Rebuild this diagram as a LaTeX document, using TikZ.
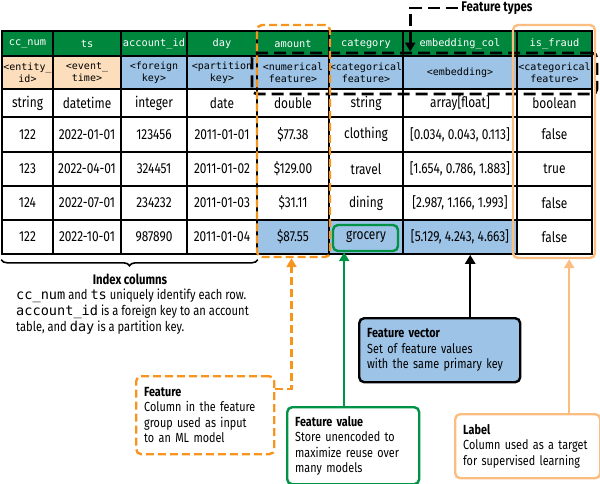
\documentclass[tikz,border=0pt]{standalone}
\usepackage{fontspec}
\setmainfont{Fira Sans}[FakeStretch=0.82]
\setmonofont{DejaVu Sans Mono}
\usetikzlibrary{positioning,arrows.meta,decorations.pathreplacing}
\hyphenpenalty=10000

\definecolor{hdrgreen}{RGB}{0,135,62}
\definecolor{keyorange}{RGB}{252,222,188}
\definecolor{typeblue}{RGB}{157,195,230}
\definecolor{featorange}{RGB}{247,148,29}
\definecolor{labelorange}{RGB}{251,190,128}
\definecolor{valgreen}{RGB}{0,146,69}

\def\colx{{2,53,121,187,257,329,403,517,592}}
\def\rowy{{31,56,89,117,152,186,220,254}}

\newcommand{\tablerow}[4]{%
  \foreach \cellt [count=\i from #3] in {#4} {%
    \pgfmathsetmacro{\xa}{\colx[\i-1]}\pgfmathsetmacro{\xb}{\colx[\i]}%
    \pgfmathsetmacro{\ya}{\rowy[#1-1]}\pgfmathsetmacro{\yb}{\rowy[#1]}%
    \node[cell,#2,minimum width=\xb-\xa,minimum height=\yb-\ya] (c#1-\i)
      at ({(\xa+\xb)/2},{(\ya+\yb)/2}) {\cellt};
  }}

\begin{document}
\begin{tikzpicture}[x=1pt, y=-1pt, >={Triangle[width=10pt,length=9pt]},
  cell/.style={draw=black, line width=1.6pt, inner sep=0pt, align=center,
    font=\fontsize{14.5}{16}\selectfont},
  hdrcell/.style={fill=hdrgreen, text=white, font=\ttfamily\fontsize{10.3}{12}\selectfont},
  keycell/.style={fill=keyorange, font=\ttfamily\fontsize{10}{12}\selectfont},
  typecell/.style={fill=typeblue, font=\ttfamily\fontsize{10}{12}\selectfont},
  pickcell/.style={fill=typeblue},
  callout/.style={rounded corners=5pt, line width=2.4pt, align=left, anchor=north west,
    inner xsep=8pt, inner ysep=0pt, font=\fontsize{13.2}{15.5}\selectfont},
  colbox/.style={rounded corners=5pt, line width=2.4pt, inner sep=0pt}]
\useasboundingbox (0,0) rectangle (600,484);

\tablerow{1}{hdrcell}{1}{cc\_num,ts,account\_id,day,amount,category,embedding\_col,is\_fraud}
\tablerow{2}{keycell}{1}{<entity\_\\id>,<event\_\\time>}
\tablerow{2}{typecell}{3}{<foreign\\key>,<partition\\key>,<numerical\\feature>,<categorical\\feature>,<embedding>,<categorical\\feature>}
\tablerow{3}{}{1}{string,datetime,integer,date,double,string,{array[float]},boolean}
\tablerow{4}{}{1}{122,2022-01-01,123456,2011-01-01,\$77.38,clothing,{[0.034, 0.043, 0.113]},false}
\tablerow{5}{}{1}{123,2022-04-01,324451,2011-01-02,\$129.00,travel,{[1.654, 0.786, 1.883]},true}
\tablerow{6}{}{1}{124,2022-07-01,234232,2011-01-03,\$31.11,dining,{[2.987, 1.166, 1.993]},false}
\tablerow{7}{}{1}{122,2022-10-01,987890,2011-01-04}
\tablerow{7}{pickcell}{5}{\$87.55,grocery,{[5.129, 4.243, 4.663]}}
\tablerow{7}{}{8}{false}

\node[colbox, draw=black, dash pattern=on 12pt off 6pt, line width=2.8pt,
  minimum width=345, minimum height=41] (typesbox) at (424.5,73.5) {};
\node[colbox, draw=featorange, dash pattern=on 8pt off 4pt,
  minimum width=73, minimum height=232] (amountcol) at (293.5,141) {};
\node[colbox, draw=labelorange, minimum width=82, minimum height=233] (labelcol) at (554,141.5) {};
\node[colbox, draw=valgreen, minimum width=65, minimum height=26] (grocbox) at (365.5,238) {};

\node[font=\bfseries\fontsize{14}{16}\selectfont] (ftypes) at (497,8) {Feature types};
\draw[->, line width=2.8pt, dash pattern=on 12pt off 6pt] (ftypes.west)
  -| ([xshift=8pt]c1-7.west |- typesbox.north);

\draw[decorate, decoration={brace, mirror, amplitude=6pt}, line width=1.6pt]
  ([yshift=-5pt]c7-1.south west) -- ([yshift=-5pt]c7-4.south east);
\node[font=\bfseries\fontsize{13.8}{15}\selectfont] (idxtitle) at (130,279) {Index columns};
\node[anchor=north west, align=left, inner sep=0pt, font=\fontsize{13.6}{16}\selectfont]
  (idxtext) at (16,289)
  {\texttt{cc\_num} and \texttt{ts} uniquely identify each row.\\
   \texttt{account\_id} is a foreign key to an account\\
   table, and \texttt{day} is a partition key.};

\node[callout, draw=featorange, dash pattern=on 8pt off 4pt, text width=122,
  minimum height=78] (feature) at (135,375)
  {\textbf{Feature}\\Column in the feature\\group used as input\\to an ML model};
\node[callout, draw=valgreen, text width=116, minimum height=77] (featval) at (286,406)
  {\textbf{Feature value}\\Store unencoded to\\maximize reuse over\\many models};
\node[callout, draw=black, fill=typeblue, text width=145, minimum height=64] (featvec) at (358,317)
  {\textbf{Feature vector}\\Set of feature values\\with the same primary key};
\node[callout, draw=labelorange, text width=129, minimum height=64] (label) at (454,413)
  {\textbf{Label}\\Column used as a target\\for supervised learning};

\draw[->, featorange, line width=2.4pt, dash pattern=on 8pt off 4pt]
  ([yshift=-14pt]feature.north east) -| ([xshift=-2pt]amountcol.south);
\draw[->, valgreen, line width=2.4pt]
  ([xshift=-9pt]featval.north) -- ([xshift=-9pt]featval.north |- grocbox.south);
\draw[->, black, line width=2.4pt]
  ([xshift=30.5pt]featvec.north) -- ([xshift=30.5pt]featvec.north |- c7-7.south);
\draw[->, labelorange, line width=2.4pt]
  ([xshift=41.5pt]label.north) -- ([xshift=41.5pt]label.north |- labelcol.south);
\end{tikzpicture}
\end{document}
